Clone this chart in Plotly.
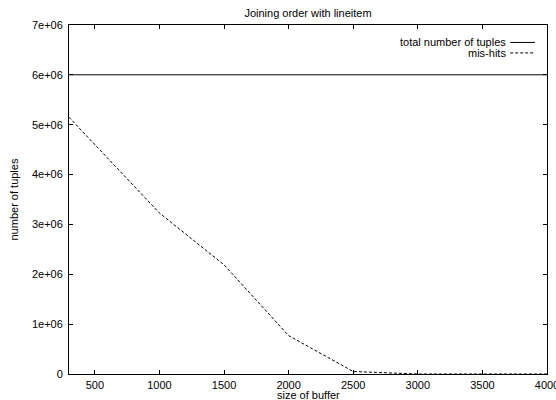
import plotly.graph_objects as go

# Buffer sizes and tuple counts for the lineitem join
buffer_size = [300, 1000, 1500, 2000, 2500, 3000, 3500, 4000]
total_tuples = [6001215] * len(buffer_size)
mis_hits = [5150000, 3230000, 2190000, 770000, 50000, 0, 0, 0]

x_ticks = [500, 1000, 1500, 2000, 2500, 3000, 3500, 4000]
x_tick_text = ["500", "1000", "1500", "2000", "2500", "3000", "3500", "4000"]
y_ticks = [0, 1e6, 2e6, 3e6, 4e6, 5e6, 6e6, 7e6]
y_tick_text = ["0", "1e+06", "2e+06", "3e+06", "4e+06", "5e+06", "6e+06", "7e+06"]

FONT = "Liberation Sans, Arial, Helvetica, sans-serif"
TXT = dict(family=FONT, size=11, color="black")

fig = go.Figure()
fig.add_trace(go.Scatter(x=buffer_size, y=total_tuples, mode="lines",
                         name="total number of tuples",
                         line=dict(color="black", width=1)))
fig.add_trace(go.Scatter(x=buffer_size, y=mis_hits, mode="lines",
                         name="mis-hits",
                         line=dict(color="black", width=1, dash="3px,2px")))

axis_common = dict(showgrid=False, zeroline=False, showline=True, linecolor="black",
                   linewidth=1, mirror="ticks", ticks="inside", ticklen=4,
                   tickcolor="black", tickfont=TXT, automargin=False,
                   ticklabeloverflow="allow")

fig.update_xaxes(range=[300, 4000], tickvals=x_ticks, ticktext=x_tick_text,
                 ticklabelstandoff=1, **axis_common)
fig.update_yaxes(range=[0, 7e6], tickvals=y_ticks, ticktext=y_tick_text,
                 ticklabelstandoff=3, **axis_common)

# Axis titles
fig.add_annotation(xref="paper", yref="paper", x=0.5, y=0, yshift=-21,
                   text="size of buffer", showarrow=False,
                   xanchor="center", yanchor="middle", font=TXT)
fig.add_annotation(xref="paper", yref="paper", x=0, y=0.5, xshift=-56,
                   text="number of tuples", showarrow=False, textangle=-90,
                   xanchor="center", yanchor="middle", font=TXT)

# Key drawn gnuplot-style: label on the left, line sample on the right
key_rows = [("total number of tuples", "solid", 0.950), ("mis-hits", "3px,2px", 0.920)]
for label, dash, yk in key_rows:
    fig.add_annotation(xref="paper", yref="paper", x=0.917, y=yk, text=label,
                       showarrow=False, xanchor="right", yanchor="middle",
                       font=TXT, borderpad=0)
    fig.add_shape(type="line", xref="paper", yref="paper", x0=0.923, x1=0.975,
                  y0=yk, y1=yk, line=dict(color="black", width=1, dash=dash))

fig.update_layout(
    width=556, height=400,
    margin=dict(l=69, r=9, t=25, b=26, autoexpand=False),
    paper_bgcolor="white", plot_bgcolor="white",
    showlegend=False,
    title=dict(text="Joining order with lineitem", x=0.5, xref="paper",
               y=1, yref="container", yanchor="top", pad=dict(t=9),
               font=TXT),
)

fig.write_html("out.html")
